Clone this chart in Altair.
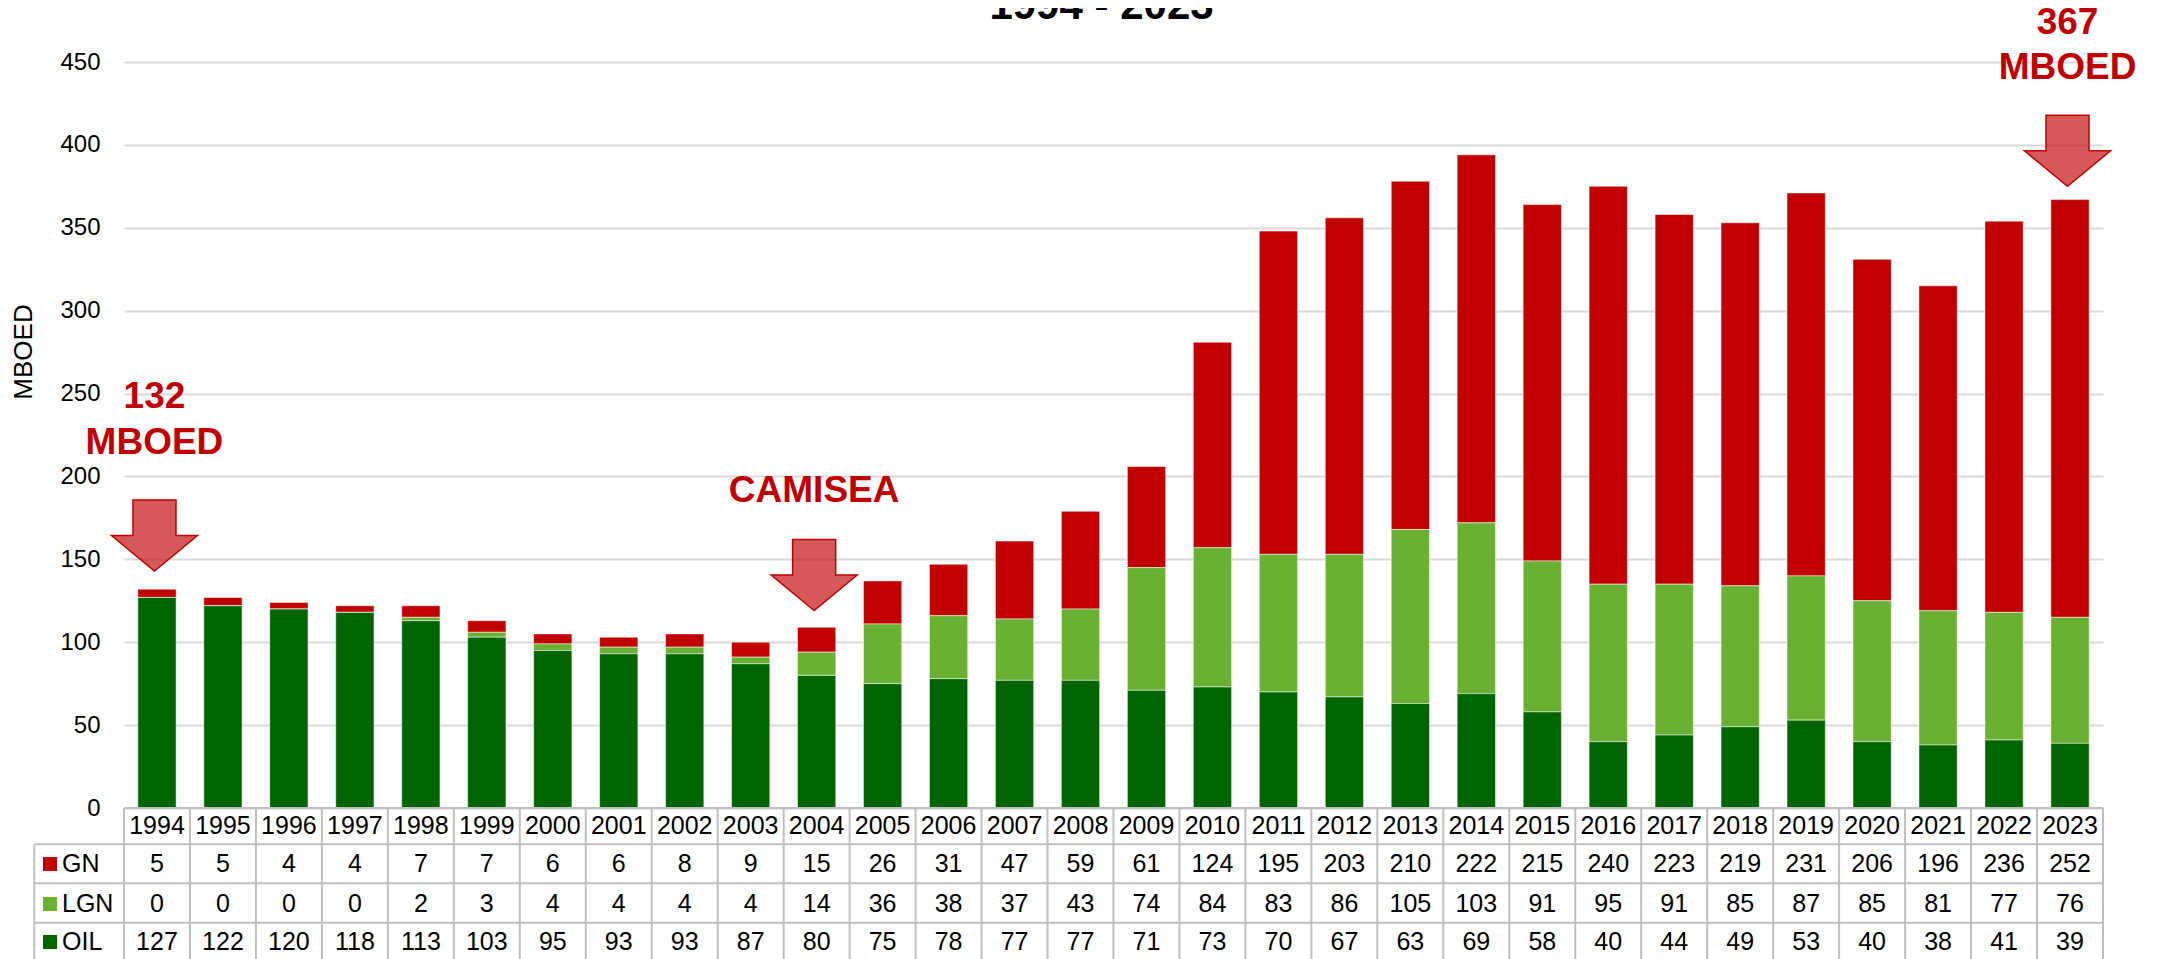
import altair as alt
import pandas as pd

# ---------------- data ----------------
years = list(range(1994, 2024))
gn = [5, 5, 4, 4, 7, 7, 6, 6, 8, 9, 15, 26, 31, 47, 59, 61, 124, 195, 203, 210,
      222, 215, 240, 223, 219, 231, 206, 196, 236, 252]
lgn = [0, 0, 0, 0, 2, 3, 4, 4, 4, 4, 14, 36, 38, 37, 43, 74, 84, 83, 86, 105,
       103, 91, 95, 91, 85, 87, 85, 81, 77, 76]
oil = [127, 122, 120, 118, 113, 103, 95, 93, 93, 87, 80, 75, 78, 77, 77, 71, 73,
       70, 67, 63, 69, 58, 40, 44, 49, 53, 40, 38, 41, 39]
series = ["GN", "LGN", "OIL"]
series_colors = ["#C00000", "#6AB133", "#006400"]
y_ticks = [0, 50, 100, 150, 200, 250, 300, 350, 400, 450]

title_text = "1994 - 2023"
y_title = "MBOED"

# annotation arrows (year, middle of arrow in MBOED)
arrow_years = [1994, 2004, 2023]
arrow_mid = [164.4, 140.5, 396.4]
# annotation labels
note_years = [1994, 1994, 2004, 2023, 2023]
note_vals = [247.8, 220.4, 191.0, 473.6, 446.5]
note_texts = ["132", "MBOED", "CAMISEA", "367", "MBOED"]

# ---------------- frames ----------------
vals = {"GN": gn, "LGN": lgn, "OIL": oil}
order = {"OIL": 0, "LGN": 1, "GN": 2}
rows = []
for s in series:
    for y, v in zip(years, vals[s]):
        rows.append({"year": y, "serie": s, "value": v, "ord": order[s]})
df = pd.DataFrame(rows)
df_years = pd.DataFrame({"year": years})
df_arrows = pd.DataFrame({"year": arrow_years, "value": arrow_mid})
df_notes = pd.DataFrame({"year": note_years, "value": note_vals, "label": note_texts})
df_one = pd.DataFrame({"a": [0]})

# ---------------- layout ----------------
W, H = 1979, 746
FONT = "Arial, Liberation Sans, sans-serif"
GRID = "#BFBFBF"
row_y = {"year": 764, "GN": 802, "LGN": 842, "OIL": 880}
row_lines = [782.3, 821.3, 860.7]
tbl_left = -89.7
tbl_bottom = 905

xscale = alt.Scale(type="band", domain=years, paddingInner=0, paddingOuter=0)
yscale = alt.Scale(domain=[0, 450], nice=False, zero=True)
yaxis = alt.Axis(values=y_ticks, labelFontSize=24, labelColor="#000000", labelFont=FONT,
                 labelPadding=24, ticks=False, tickSize=0, domain=False,
                 gridColor="#D9D9D9", gridWidth=2,
                 title=y_title, titleFont=FONT, titleFontSize=26, titleFontWeight="normal",
                 titleColor="#000000", titleAngle=270, titleX=-100.7, titleY=289.5,
                 titleAlign="center", titleBaseline="middle")

X = lambda **k: alt.X("year:O", scale=xscale, axis=None, **k)
Y = alt.Y("value:Q", scale=yscale, axis=yaxis, stack="zero")
Yn = alt.Y("value:Q", scale=yscale, axis=yaxis, stack=None)

bars = alt.Chart(df).mark_bar(
    width=alt.RelativeBandSize(0.58), stroke="white", strokeWidth=1, strokeOpacity=0.5
).encode(
    x=X(),
    y=Y,
    color=alt.Color("serie:N", scale=alt.Scale(domain=series, range=series_colors), legend=None),
    order=alt.Order("ord:Q", sort="ascending"),
)

arrow_path = "M-0.5,-0.826L0.5,-0.826L0.5,0L1,0L0,0.826L-1,0L-0.5,0Z"
arrows = alt.Chart(df_arrows).mark_point(
    shape=arrow_path, size=7396, filled=True, fill="#C00000", fillOpacity=0.65,
    stroke="#C00000", strokeWidth=1.5, strokeOpacity=1, opacity=1, xOffset=-2.5
).encode(x=X(), y=Yn)

notes = alt.Chart(df_notes).mark_text(
    font=FONT, fontSize=37, fontWeight="bold", color="#C00000", baseline="middle",
    align="center", dx=-2.5
).encode(x=X(), y=Yn, text="label:N")

title = alt.Chart(df_one).mark_text(
    text=title_text, font=FONT, fontSize=42, fontWeight="bold", color="#000000",
    baseline="alphabetic", align="center"
).encode(x=alt.value(977.5), y=alt.value(-43))

# ---------------- table ----------------
layers = [bars, arrows, notes, title]

# vertical grid lines of the table
layers.append(alt.Chart(df_years).mark_rule(color=GRID, strokeWidth=2).encode(
    x=X(bandPosition=0), y=alt.value(H), y2=alt.value(tbl_bottom)))
layers.append(alt.Chart(df_one).mark_rule(color=GRID, strokeWidth=2).encode(
    x=alt.value(W), y=alt.value(H), y2=alt.value(tbl_bottom)))
layers.append(alt.Chart(df_one).mark_rule(color=GRID, strokeWidth=2).encode(
    x=alt.value(tbl_left), y=alt.value(row_lines[0]), y2=alt.value(tbl_bottom)))
# horizontal lines
layers.append(alt.Chart(df_one).mark_rule(color=GRID, strokeWidth=2).encode(
    x=alt.value(0), x2=alt.value(W), y=alt.value(H)))
for ly in row_lines:
    layers.append(alt.Chart(df_one).mark_rule(color=GRID, strokeWidth=2).encode(
        x=alt.value(tbl_left), x2=alt.value(W), y=alt.value(ly)))

# year row
layers.append(alt.Chart(df_years).mark_text(
    font=FONT, fontSize=25, color="#000000", baseline="middle", align="center"
).encode(x=X(), y=alt.value(row_y["year"]), text=alt.Text("year:O")))

# value rows + legend
for s, c in zip(series, series_colors):
    layers.append(alt.Chart(df[df["serie"] == s]).mark_text(
        font=FONT, fontSize=25, color="#000000", baseline="middle", align="center"
    ).encode(x=X(), y=alt.value(row_y[s]), text=alt.Text("value:Q")))
    layers.append(alt.Chart(df_one).mark_point(
        shape="square", filled=True, size=196, color=c, opacity=1
    ).encode(x=alt.value(-74), y=alt.value(row_y[s])))
    layers.append(alt.Chart(df_one).mark_text(
        text=s, font=FONT, fontSize=25, color="#000000", baseline="middle", align="left"
    ).encode(x=alt.value(-62), y=alt.value(row_y[s])))

chart = alt.layer(*layers).properties(
    width=W, height=H,
    autosize=alt.AutoSizeParams(type="none"),
    padding={"left": 116, "top": 54, "right": 50, "bottom": 151},
    background="white",
).configure_view(stroke=None)

chart.save("out.html", embed_options={"renderer": "svg", "actions": False})
